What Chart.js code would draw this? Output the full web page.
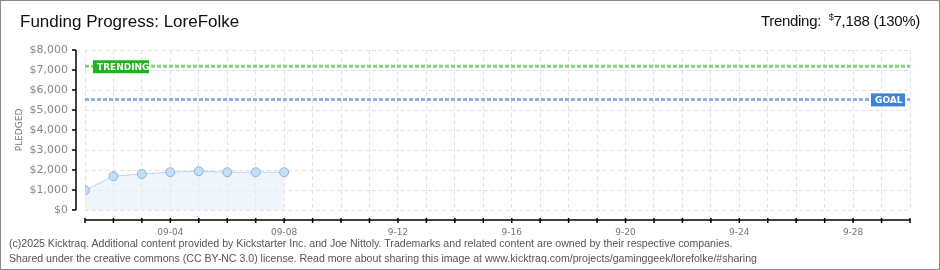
<!DOCTYPE html>
<html>
<head>
<meta charset="utf-8">
<script src="https://cdn.jsdelivr.net/npm/chart.js@4.4.1/dist/chart.umd.min.js"></script>
<style>
    html, body { margin: 0; padding: 0; background: #fff; }
    #frame {
        position: relative;
        width: 940px; height: 270px;
        box-sizing: border-box;
        border: 1px solid #8a8a8a;
        overflow: hidden;
    }
    #chartBox { position: absolute; left: -1px; top: -1px; width: 940px; height: 270px; }
    .title {
        position: absolute; top: 11px;
        font-family: "Liberation Sans", sans-serif;
        color: #111;
    }
    #titleLeft { left: 19px; font-size: 17px; }
    #titleRight { right: 19px; font-size: 15px; letter-spacing: -0.3px; }
    #titleRight sup { font-size: 9px; }
    #footer {
        position: absolute; left: 8px; top: 235px;
        font-family: "Liberation Sans", sans-serif;
        font-size: 10.6px; line-height: 15px; color: #555;
    }
</style>
</head>
<body>
<div id="frame">
    <div id="chartBox"><canvas id="fundingChart"></canvas></div>
    <div class="title" id="titleLeft">Funding Progress: LoreFolke</div>
    <div class="title" id="titleRight">Trending: &nbsp;<sup>$</sup>7,188 (130%)</div>
    <div id="footer">
        (c)2025 Kicktraq. Additional content provided by Kickstarter Inc. and Joe Nittoly. Trademarks and related content are owned by their respective companies.<br>
        Shared under the creative commons (CC BY-NC 3.0) license. Read more about sharing this image at www.kicktraq.com/projects/gaminggeek/lorefolke/#sharing
    </div>
</div>

<script>
// --- Data (days counted from 09-01) ---
const pledgeDays = [0, 1, 2, 3, 4, 5, 6, 7];
const pledged = [990, 1690, 1800, 1890, 1940, 1890, 1890, 1890];
const campaignLastDay = 29;          // 09-30
const trendingValue = 7188;
const goalValue = 5530;
const xTickDays = [3, 7, 11, 15, 19, 23, 27];
const xTickLabels = ['09-04', '09-08', '9-12', '9-16', '9-20', '9-24', '9-28'];
const yMax = 8000;

const gridGrey = '#e2e2e2';

// axis lines sit a few px away from the plot, like the original image
const offsetAxes = {
    id: 'offsetAxes',
    afterDraw(chart) {
        const { ctx, chartArea, scales } = chart;
        const xs = scales.x, ys = scales.y;
        const ax = chartArea.left - 9;
        const ay = chartArea.bottom + 10;
        ctx.save();
        ctx.lineWidth = 1.5;
        // y axis
        ctx.strokeStyle = '#000';
        ctx.beginPath();
        ctx.moveTo(ax, ys.getPixelForValue(yMax));
        ctx.lineTo(ax, ys.getPixelForValue(0));
        ctx.stroke();
        ys.ticks.forEach(t => {
            const py = ys.getPixelForValue(t.value);
            ctx.strokeStyle = t.value % 1000 === 0 ? '#000' : '#e00000';
            ctx.beginPath();
            ctx.moveTo(ax - 4, py);
            ctx.lineTo(ax, py);
            ctx.stroke();
        });
        // x axis
        ctx.strokeStyle = '#000';
        ctx.beginPath();
        ctx.moveTo(xs.getPixelForValue(0), ay);
        ctx.lineTo(xs.getPixelForValue(campaignLastDay), ay);
        ctx.stroke();
        xs.ticks.forEach(t => {
            const px = xs.getPixelForValue(t.value);
            ctx.beginPath();
            ctx.moveTo(px, ay - 2);
            ctx.lineTo(px, ay + 3);
            ctx.stroke();
        });
        ctx.restore();
    }
};

// TRENDING / GOAL tags on the reference lines
const lineTags = {
    id: 'lineTags',
    afterDatasetsDraw(chart) {
        const { ctx, chartArea, scales } = chart;
        const tag = (text, color, left, value, w) => {
            const y = scales.y.getPixelForValue(value);
            ctx.fillStyle = color;
            ctx.fillRect(left, y - 6, w, 13);
            ctx.fillStyle = '#fff';
            ctx.font = 'bold 9px "DejaVu Sans", sans-serif';
            ctx.textBaseline = 'middle';
            ctx.fillText(text, left + 4, y + 1);
        };
        tag('TRENDING', '#1db41d', chartArea.left + 8, trendingValue, 56);
        tag('GOAL', '#3b86d8', chartArea.right - 39, goalValue, 34);
    }
};

const ctx = document.getElementById('fundingChart').getContext('2d');
const fundingChart = new Chart(ctx, {
    type: 'line',
    data: {
        datasets: [
            {
                label: 'Pledged',
                data: pledgeDays.map((d, i) => ({ x: d, y: pledged[i] })),
                borderColor: '#b9d4f1',
                borderWidth: 1,
                backgroundColor: 'rgba(226, 238, 251, 0.6)',
                fill: 'origin',
                pointRadius: 4.5,
                pointBackgroundColor: '#c6ddf7',
                pointBorderColor: '#8fb1db',
                pointBorderWidth: 1,
                tension: 0
            },
            {
                label: 'Trending',
                data: [{ x: 0, y: trendingValue }, { x: campaignLastDay, y: trendingValue }],
                borderColor: '#84d27a',
                borderWidth: 3,
                borderDash: [4, 2],
                pointRadius: 0,
                fill: false
            },
            {
                label: 'Goal',
                data: [{ x: 0, y: goalValue }, { x: campaignLastDay, y: goalValue }],
                borderColor: '#8fb3dd',
                borderWidth: 3,
                borderDash: [4, 2],
                pointRadius: 0,
                fill: false
            }
        ]
    },
    options: {
        responsive: true,
        maintainAspectRatio: false,
        animation: false,
        layout: { padding: { left: 14, right: 30, top: 50, bottom: 0 } },
        plugins: {
            legend: { display: false },
            tooltip: { enabled: false }
        },
        scales: {
            x: {
                type: 'linear',
                min: 0,
                max: campaignLastDay,
                border: { display: false, dash: [4, 3] },
                grid: {
                    color: gridGrey,
                    drawTicks: false
                },
                ticks: {
                    stepSize: 1,
                    autoSkip: false,
                    maxRotation: 0,
                    padding: 17,
                    color: '#777',
                    font: { family: '"DejaVu Sans", sans-serif', size: 9 },
                    callback: (v) => {
                        const i = xTickDays.indexOf(v);
                        return i >= 0 ? xTickLabels[i] : '';
                    }
                },
                afterFit: (s) => { s.height = 60; }
            },
            y: {
                min: 0,
                max: yMax,
                border: { display: false, dash: [4, 3] },
                grid: {
                    color: (c) => (c.tick && c.tick.value % 1000 === 0 ? gridGrey : 'rgba(0,0,0,0)'),
                    drawTicks: false
                },
                ticks: {
                    stepSize: 500,
                    padding: 17,
                    color: '#888',
                    font: { family: '"DejaVu Sans", sans-serif', size: 11 },
                    callback: (v) => (v % 1000 === 0 ? '$' + v.toLocaleString('en-US') : '')
                },
                title: {
                    display: true,
                    text: 'PLEDGED',
                    color: '#777',
                    font: { family: '"DejaVu Sans", sans-serif', size: 9 },
                    padding: 0
                },
                afterFit: (s) => { s.width = 71; }
            }
        }
    },
    plugins: [offsetAxes, lineTags]
});
</script>
</body>
</html>
